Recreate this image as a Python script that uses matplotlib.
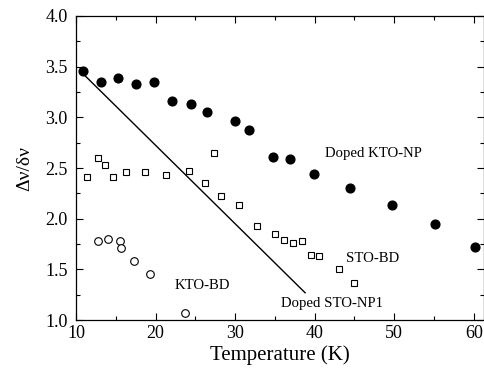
import matplotlib

matplotlib.use("Agg")

import matplotlib.pyplot as plt
from matplotlib.ticker import MultipleLocator

# Doped KTO-NP (filled circles)
kto_np_t = [10.9, 13.1, 15.3, 17.5, 19.8, 22.1, 24.4, 26.5, 30.0, 31.7,
            34.7, 36.9, 39.9, 44.4, 49.7, 55.1, 60.2]
kto_np_r = [3.46, 3.35, 3.39, 3.33, 3.35, 3.16, 3.13, 3.05, 2.96, 2.87,
            2.61, 2.59, 2.44, 2.30, 2.14, 1.95, 1.72]

# STO-BD (open squares)
sto_bd_t = [11.4, 12.7, 13.6, 14.6, 16.3, 18.6, 21.3, 24.2, 26.2, 27.3,
            28.2, 30.5, 32.7, 35.0, 36.2, 37.3, 38.4, 39.5, 40.6, 43.0, 45.0]
sto_bd_r = [2.41, 2.60, 2.53, 2.41, 2.46, 2.46, 2.43, 2.47, 2.35, 2.65,
            2.22, 2.14, 1.93, 1.85, 1.79, 1.76, 1.78, 1.64, 1.63, 1.50, 1.37]

# KTO-BD (open circles)
kto_bd_t = [12.8, 14.0, 15.5, 15.6, 17.3, 19.3, 23.7]
kto_bd_r = [1.78, 1.80, 1.78, 1.71, 1.58, 1.46, 1.07]

# Doped STO-NP1 (straight line)
sto_np1_t = [10.6, 38.8]
sto_np1_r = [3.45, 1.27]

plt.rcParams["font.family"] = ["Liberation Serif", "DejaVu Serif"]

fig = plt.figure(figsize=(4.85, 3.78), dpi=100)
ax = fig.add_axes([0.157, 0.153, 0.841, 0.805])

ax.plot(sto_np1_t, sto_np1_r, color="black", linewidth=1.0)
ax.plot(kto_np_t, kto_np_r, "o", color="black", markersize=6.3)
ax.plot(sto_bd_t, sto_bd_r, "s", markerfacecolor="white",
        markeredgecolor="black", markersize=5, markeredgewidth=0.8)
ax.plot(kto_bd_t, kto_bd_r, "o", markerfacecolor="white",
        markeredgecolor="black", markersize=5.5, markeredgewidth=0.8)

ax.text(41.3, 2.64, "Doped KTO-NP", fontsize=10.6, va="center")
ax.text(44.0, 1.61, "STO-BD", fontsize=10.6, va="center")
ax.text(22.4, 1.34, "KTO-BD", fontsize=10.6, va="center")
ax.text(35.8, 1.16, "Doped STO-NP1", fontsize=10.6, va="center")

ax.set_xlim(10, 61.3)
ax.set_ylim(1.0, 4.0)
ax.xaxis.set_major_locator(MultipleLocator(10))
ax.xaxis.set_minor_locator(MultipleLocator(5))
ax.yaxis.set_major_locator(MultipleLocator(0.5))
ax.yaxis.set_minor_locator(MultipleLocator(0.25))
ax.yaxis.set_major_formatter(matplotlib.ticker.FormatStrFormatter("%.1f"))
ax.tick_params(which="both", direction="in", top=True, right=True,
               labelsize=13, width=0.8)
ax.tick_params(which="major", length=5)
ax.tick_params(which="minor", length=3)
ax.tick_params(axis="y", pad=6)
for spine in ax.spines.values():
    spine.set_linewidth(0.9)

ax.set_xlabel("Temperature (K)", fontsize=15, labelpad=2)
ax.set_ylabel("Δν/δν", fontsize=14, labelpad=9)

fig.savefig("out.png", dpi=100)
